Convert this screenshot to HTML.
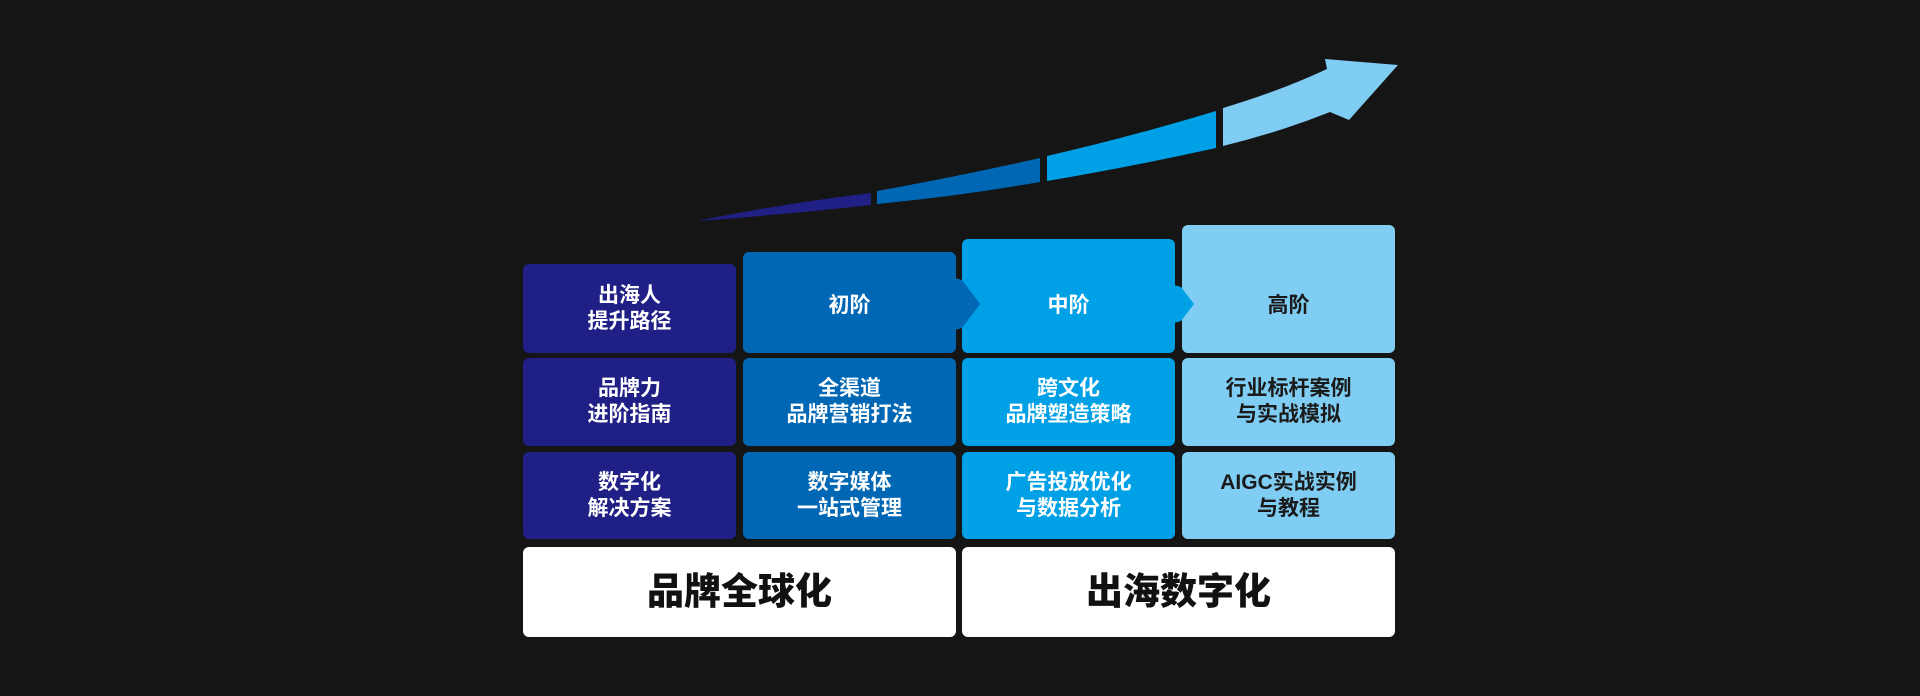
<!DOCTYPE html>
<html><head><meta charset="utf-8"><style>
html,body{margin:0;padding:0;background:#151515;}
body{width:1920px;height:696px;position:relative;overflow:hidden;font-family:"Liberation Sans","Noto Sans CJK SC",sans-serif;}
.c{position:absolute;border-radius:6px;display:flex;align-items:center;justify-content:center;text-align:center;font-weight:bold;font-size:21px;line-height:26px;color:#fff;box-sizing:border-box;}
.t{align-items:flex-end;padding-bottom:34px;}
.a{background:#1f1f86}.b{background:#0067b4}.d{background:#00a0e6}.e{background:#7fcdf3;color:#1a1a1a}
.w{background:#fff;color:#111;font-size:37px;font-weight:900;}
svg{position:absolute;left:0;top:0}
</style></head><body>
<svg width="1920" height="696">
<path fill="#1f1f86" d="M697,221 Q780,204 871,193 L871,205 Q780,215 697,221Z"/>
<path fill="#0067b4" d="M877,191 Q960,176 1040,158 L1040,182 Q960,196 877,204Z"/>
<path fill="#00a0e6" d="M1047,156 Q1130,137 1216,111 L1216,148 Q1130,167 1047,181Z"/>
<path fill="#7fcdf3" d="M1223,108 Q1280,91 1327,69 L1325,59 L1398,65 L1349,120 L1330,112 Q1280,132 1223,146Z"/>
</svg>
<div class="c a" style="left:523px;top:264px;width:213px;height:89px">出海人<br>提升路径</div>
<div class="c b t" style="left:743px;top:252px;width:213px;height:101px">初阶</div>
<div class="c d t" style="left:962px;top:239px;width:213px;height:114px">中阶</div>
<div class="c e t" style="left:1182px;top:225px;width:213px;height:128px">高阶</div>
<svg width="1920" height="696" style="pointer-events:none">
<polygon fill="#0067b4" points="955,278 962,280 980,304 962,328 955,330"/>
<polygon fill="#00a0e6" points="1174,285 1181,287 1194,304 1181,321 1174,323"/>
</svg>
<div class="c a" style="left:523px;top:358px;width:213px;height:88px">品牌力<br>进阶指南</div>
<div class="c b" style="left:743px;top:358px;width:213px;height:88px">全渠道<br>品牌营销打法</div>
<div class="c d" style="left:962px;top:358px;width:213px;height:88px">跨文化<br>品牌塑造策略</div>
<div class="c e" style="left:1182px;top:358px;width:213px;height:88px">行业标杆案例<br>与实战模拟</div>
<div class="c a" style="left:523px;top:452px;width:213px;height:87px">数字化<br>解决方案</div>
<div class="c b" style="left:743px;top:452px;width:213px;height:87px">数字媒体<br>一站式管理</div>
<div class="c d" style="left:962px;top:452px;width:213px;height:87px">广告投放优化<br>与数据分析</div>
<div class="c e" style="left:1182px;top:452px;width:213px;height:87px">AIGC实战实例<br>与教程</div>
<div class="c w" style="left:523px;top:547px;width:433px;height:90px">品牌全球化</div>
<div class="c w" style="left:962px;top:547px;width:433px;height:90px">出海数字化</div>
</body></html>
